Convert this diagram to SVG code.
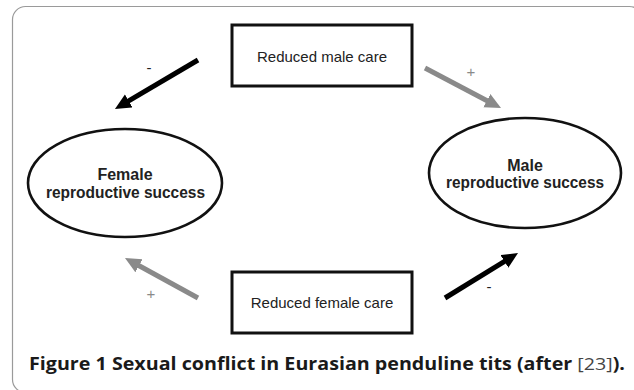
<svg xmlns="http://www.w3.org/2000/svg" width="634" height="390" viewBox="0 0 634 390">
<defs>
<style>
.frame{fill:#fff;stroke:#9a9a9a;stroke-width:1.2}
.box{fill:#fff;stroke:#111;stroke-width:3}
.ell{fill:#fff;stroke:#111;stroke-width:2.6}
.lbl{font-family:"Liberation Sans",Arial,sans-serif;font-size:15px;fill:#222;text-anchor:middle}
.bl{font-family:"Liberation Sans",Arial,sans-serif;font-size:16px;font-weight:bold;fill:#222;text-anchor:middle}
.blk{stroke:#000;stroke-width:5;fill:none;marker-end:url(#hb)}
.gry{stroke:#8a8a8a;stroke-width:5;fill:none;marker-end:url(#hg)}
.sign{font-family:"Liberation Sans",Arial,sans-serif;font-size:15px;text-anchor:middle}
.cap{font-family:"Open Sans","Liberation Sans",sans-serif;font-size:17px;fill:#1a1a1a}
</style>
<marker id="hb" markerUnits="userSpaceOnUse" markerWidth="18" markerHeight="16" refX="4" refY="7.5" orient="auto" viewBox="0 0 18 16">
<path d="M0,0 L16,7.5 L0,15 z" fill="#000"/>
</marker>
<marker id="hg" markerUnits="userSpaceOnUse" markerWidth="18" markerHeight="16" refX="4" refY="7.5" orient="auto" viewBox="0 0 18 16">
<path d="M0,0 L16,7.5 L0,15 z" fill="#8a8a8a"/>
</marker>
</defs>
<rect x="0" y="0" width="634" height="390" fill="#fff"/>
<rect class="frame" x="12.5" y="6.5" width="630" height="386" rx="13"/>
<g id="connectors">
<line class="blk" x1="198" y1="60" x2="125.3" y2="102.9"/>
<line class="gry" x1="425" y1="68" x2="490.4" y2="102.5"/>
<line class="gry" x1="198" y1="298" x2="135.5" y2="263.8"/>
<line class="blk" x1="445" y1="298" x2="507.8" y2="259.3"/>
<text class="sign" x="149" y="73" fill="#222">-</text>
<text class="sign" x="471" y="77" fill="#8a8a8a">+</text>
<text class="sign" x="151" y="299" fill="#8a8a8a">+</text>
<text class="sign" x="489" y="292" fill="#222">-</text>
</g>
<g id="reduced-male-care">
<rect class="box" x="232" y="25" width="180" height="61"/>
<text class="lbl" x="322" y="62">Reduced male care</text>
</g>
<g id="reduced-female-care">
<rect class="box" x="232" y="272" width="180" height="61"/>
<text class="lbl" x="322" y="308">Reduced female care</text>
</g>
<g id="female-success">
<ellipse class="ell" cx="125" cy="183" rx="97" ry="54"/>
<text class="bl" x="125" y="180">Female</text>
<text class="bl" x="125.5" y="198" textLength="159" lengthAdjust="spacingAndGlyphs">reproductive success</text>
</g>
<g id="male-success">
<ellipse class="ell" cx="525" cy="173" rx="96" ry="55"/>
<text class="bl" x="525" y="171">Male</text>
<text class="bl" x="525" y="188" textLength="158" lengthAdjust="spacingAndGlyphs">reproductive success</text>
</g>
<text class="cap" x="29" y="370" textLength="596" lengthAdjust="spacingAndGlyphs"><tspan font-weight="bold">Figure 1 Sexual conflict in Eurasian penduline tits (after </tspan><tspan fill="#444">[23]</tspan><tspan font-weight="bold">).</tspan></text>
</svg>
